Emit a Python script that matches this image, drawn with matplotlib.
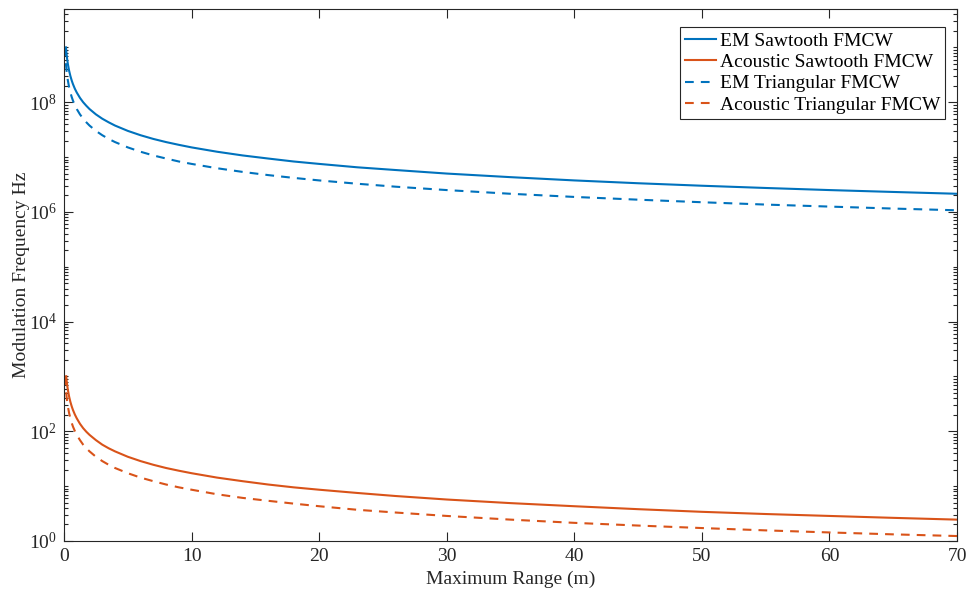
import numpy as np
import matplotlib
matplotlib.use("Agg")
import matplotlib.pyplot as plt
from matplotlib.ticker import LogLocator, NullFormatter, LogFormatterMathtext

plt.rcParams['font.family'] = ['Liberation Serif', 'DejaVu Serif']
plt.rcParams['mathtext.fontset'] = 'custom'
plt.rcParams['mathtext.rm'] = 'Liberation Serif'

# modulation frequency (Hz) vs maximum unambiguous range (m)
saw_range = [0.15, 0.2, 0.25, 0.3, 0.4, 0.5, 0.6, 0.7, 0.85, 1, 1.25, 1.5, 1.75, 2,
             2.5, 3, 3.5, 4, 5, 6, 7, 8, 9, 10, 12, 14, 16, 18, 20, 23, 26, 30, 35,
             40, 45, 50, 55, 60, 65, 70]
em_saw = [1.0e9, 7.5e8, 6.0e8, 5.0e8, 3.75e8, 3.0e8, 2.5e8, 2.14e8, 1.76e8, 1.5e8,
          1.2e8, 1.0e8, 8.6e7, 7.5e7, 6.0e7, 5.0e7, 4.3e7, 3.75e7, 3.0e7, 2.5e7,
          2.14e7, 1.875e7, 1.67e7, 1.5e7, 1.25e7, 1.07e7, 9.4e6, 8.3e6, 7.5e6, 6.5e6,
          5.8e6, 5.0e6, 4.3e6, 3.75e6, 3.33e6, 3.0e6, 2.73e6, 2.5e6, 2.31e6, 2.14e6]

tri_range = [0.075, 0.1, 0.125, 0.15, 0.2, 0.25, 0.3, 0.4, 0.5, 0.6, 0.7, 0.85, 1,
             1.25, 1.5, 1.75, 2, 2.5, 3, 3.5, 4, 5, 6, 7, 8, 9, 10, 12, 14, 16, 18,
             20, 23, 26, 30, 35, 40, 45, 50, 55, 60, 65, 70]
em_tri = [1.0e9, 7.5e8, 6.0e8, 5.0e8, 3.75e8, 3.0e8, 2.5e8, 1.875e8, 1.5e8, 1.25e8,
          1.07e8, 8.8e7, 7.5e7, 6.0e7, 5.0e7, 4.3e7, 3.75e7, 3.0e7, 2.5e7, 2.14e7,
          1.875e7, 1.5e7, 1.25e7, 1.07e7, 9.4e6, 8.3e6, 7.5e6, 6.25e6, 5.36e6, 4.69e6,
          4.17e6, 3.75e6, 3.26e6, 2.88e6, 2.5e6, 2.14e6, 1.875e6, 1.67e6, 1.5e6,
          1.36e6, 1.25e6, 1.15e6, 1.07e6]

ac_saw_range = [0.17, 0.2, 0.25, 0.3, 0.4, 0.5, 0.6, 0.7, 0.85, 1, 1.25, 1.5, 1.75, 2,
                2.5, 3, 3.5, 4, 5, 6, 7, 8, 9, 10, 12, 14, 16, 18, 20, 23, 26, 30, 35,
                40, 45, 50, 55, 60, 65, 70]
ac_saw = [1009, 858, 686, 572, 429, 343, 286, 245, 202, 172, 137, 114, 98, 86, 69,
          57, 49, 43, 34.3, 28.6, 24.5, 21.4, 19.1, 17.2, 14.3, 12.3, 10.7, 9.5, 8.6,
          7.5, 6.6, 5.7, 4.9, 4.3, 3.8, 3.4, 3.1, 2.86, 2.64, 2.45]

ac_tri_range = [0.086, 0.1, 0.125, 0.15, 0.2, 0.25, 0.3, 0.4, 0.5, 0.6, 0.7, 0.85, 1,
                1.25, 1.5, 1.75, 2, 2.5, 3, 3.5, 4, 5, 6, 7, 8, 9, 10, 12, 14, 16, 18,
                20, 23, 26, 30, 35, 40, 45, 50, 55, 60, 65, 70]
ac_tri = [997, 858, 686, 572, 429, 343, 286, 214, 172, 143, 122, 101, 86, 69, 57, 49,
          43, 34.3, 28.6, 24.5, 21.4, 17.2, 14.3, 12.3, 10.7, 9.5, 8.6, 7.1, 6.1,
          5.4, 4.8, 4.3, 3.7, 3.3, 2.86, 2.45, 2.14, 1.91, 1.72, 1.56, 1.43, 1.32, 1.23]

BLUE = '#0072BD'
ORANGE = '#D95319'
AX = '#262626'

fig = plt.figure(figsize=(9.67, 5.9), dpi=100)
ax = fig.add_axes([0.0662, 0.0831, 0.9235, 0.9016])

dash = (4.2, 3.4)
ax.plot(saw_range, em_saw, color=BLUE, lw=1.5, label='EM Sawtooth FMCW')
ax.plot(ac_saw_range, ac_saw, color=ORANGE, lw=1.5, label='Acoustic Sawtooth FMCW')
ax.plot(tri_range, em_tri, color=BLUE, lw=1.5, dashes=dash, label='EM Triangular FMCW')
ax.plot(ac_tri_range, ac_tri, color=ORANGE, lw=1.5, dashes=dash,
        label='Acoustic Triangular FMCW')

ax.set_yscale('log')
ax.set_xlim(0, 70)
ax.set_ylim(1, 5e9)
ax.set_xticks([0, 10, 20, 30, 40, 50, 60, 70])
ax.set_yticks([1, 1e2, 1e4, 1e6, 1e8])
ax.yaxis.set_major_formatter(LogFormatterMathtext())
ax.yaxis.set_minor_locator(LogLocator(base=10, subs=np.arange(1, 10), numticks=100))
ax.yaxis.set_minor_formatter(NullFormatter())

for s in ax.spines.values():
    s.set_color(AX)
    s.set_linewidth(0.8)
ax.tick_params(which='both', direction='in', top=True, right=True, colors=AX,
               labelsize=14, width=0.8)
ax.tick_params(which='major', length=6.5, pad=5)
ax.tick_params(which='minor', length=3.2)

ax.set_xlabel('Maximum Range (m)', fontsize=14, color=AX, labelpad=4)
ax.set_ylabel('Modulation Frequency Hz', fontsize=14, color=AX, labelpad=-1)

leg = ax.legend(loc='upper right', bbox_to_anchor=(0.9866, 0.966), fontsize=14,
                fancybox=False, framealpha=1, edgecolor=AX, handlelength=1.6,
                handletextpad=0.2, labelspacing=0.19, borderpad=0.26,
                borderaxespad=0)
leg.get_frame().set_linewidth(0.8)

fig.savefig('out.png', dpi=100)
